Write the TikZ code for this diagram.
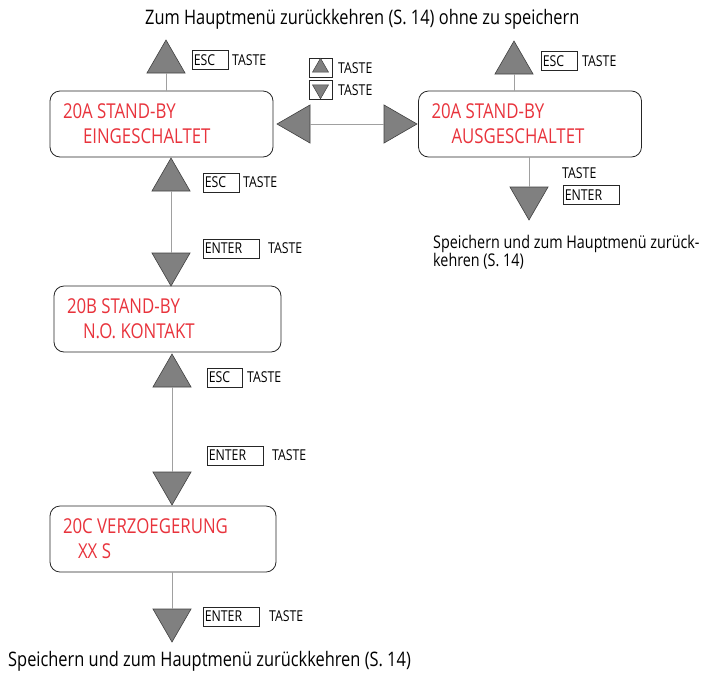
\documentclass[tikz,border=0pt]{standalone}
\usepackage{fontspec}
\setmainfont{Open Sans}[FakeStretch=0.82]
\usetikzlibrary{shapes.geometric}
\definecolor{lcdred}{HTML}{E8333C}
\definecolor{keygray}{HTML}{808080}
\definecolor{linkgray}{HTML}{A0A0A0}
\tikzset{
  tri/.style={regular polygon, regular polygon sides=3, minimum size=44pt,
    inner sep=0pt, outer sep=0pt, fill=keygray, draw=black!75, line width=0.6pt},
  triup/.style={tri, anchor=corner 1},
  tridown/.style={tri, shape border rotate=180, anchor=corner 1},
  trileft/.style={tri, shape border rotate=90, anchor=corner 1},
  triright/.style={tri, shape border rotate=-90, anchor=corner 1},
  minitri/.style={regular polygon, regular polygon sides=3, minimum size=18.5pt,
    inner sep=0pt, outer sep=0pt, fill=keygray, draw=black!75, line width=0.5pt},
  lcd/.style={draw=black!85, line width=0.8pt, rounded corners=10pt,
    minimum width=223pt, minimum height=66pt, text width=197pt,
    inner xsep=13pt, inner ysep=0pt, align=flush left, text=lcdred,
    font=\fontsize{20.5}{25}\selectfont},
  keybox/.style={draw=black!85, line width=0.6pt, anchor=west,
    minimum height=19pt, inner xsep=1.5pt, inner ysep=0pt, align=left,
    font=\fontsize{15}{15}\selectfont},
  esckey/.style={keybox, text width=33pt},
  enterkey/.style={keybox, text width=53pt},
  iconbox/.style={draw=black!85, line width=0.6pt, minimum width=23pt,
    minimum height=19pt, inner sep=0pt},
  taste/.style={anchor=west, inner sep=0pt, font=\fontsize{15}{15}\selectfont},
  note/.style={anchor=base west, inner sep=0pt, align=left,
    font=\fontsize{20}{21}\selectfont},
  smallnote/.style={note, font=\fontsize{17.5}{17.5}\selectfont},
  link/.style={draw=linkgray, line width=0.8pt}
}
\begin{document}
\begin{tikzpicture}[x=1pt, y=-1pt]
\useasboundingbox (0,0) rectangle (703,675);

% display boxes
\node[lcd] (a1) at (161.5,124) {20A STAND-BY\\\hspace*{20pt}EINGESCHALTET};
\node[lcd] (a2) at (530,124) {20A STAND-BY\\\hspace*{20pt}AUSGESCHALTET};
\node[lcd, minimum width=227pt, text width=201pt] (b) at (167.5,319)
  {20B STAND-BY\\\hspace*{16pt}N.O. KONTAKT};
\node[lcd, minimum width=226pt, text width=200pt] (c) at (163,539)
  {20C VERZOEGERUNG\\\hspace*{15pt}XX S};

% key triangles
\node[triup] (t1) at (166,40) {};
\node[triup] (t2) at (514,41) {};
\node[trileft] (tl) at (277,124) {};
\node[triright] (tr) at (417,124) {};
\node[tridown] (t3) at (529,220) {};
\node[triup] (t4) at (171,158) {};
\node[tridown] (t5) at (171,286) {};
\node[triup] (t6) at (172,354) {};
\node[tridown] (t7) at (172,505) {};
\node[tridown] (t8) at (172,642) {};

% connectors
\draw[link] (t1.side 2) -- (t1.side 2 |- a1.north);
\draw[link] (t2.side 2) -- (t2.side 2 |- a2.north);
\draw[link] (tl.side 2) -- (tr.side 2);
\draw[link] (t3.side 2 |- a2.south) -- (t3.side 2);
\draw[link] (t4.side 2) -- (t5.side 2);
\draw[link] (t6.side 2) -- (t7.side 2);
\draw[link] (t8.side 2 |- c.south) -- (t8.side 2);

% key labels
\node[esckey] (k1) at (192,60) {ESC};
\node[taste] (k1t) at (232,60) {TASTE};
\node[esckey] (k2) at (541,61) {ESC};
\node[taste] (k2t) at (582,61) {TASTE};
\node[taste] (k3t) at (562,173) {TASTE};
\node[enterkey] (k3) at (563,195) {ENTER};
\node[esckey] (k4) at (203,182.5) {ESC};
\node[taste] (k4t) at (243,182.5) {TASTE};
\node[enterkey] (k5) at (203,248.5) {ENTER};
\node[taste] (k5t) at (268,248.5) {TASTE};
\node[esckey, text width=32pt] (k6) at (207,377.5) {ESC};
\node[taste] (k6t) at (247,377.5) {TASTE};
\node[enterkey] (k7) at (207,455.5) {ENTER};
\node[taste] (k7t) at (272,455.5) {TASTE};
\node[enterkey] (k8) at (203,616.5) {ENTER};
\node[taste] (k8t) at (269,616.5) {TASTE};

% arrow key icons
\node[iconbox] (ku) at (320.5,67.5) {};
\node[minitri] at (ku) {};
\node[iconbox] (kd) at (320.5,89.5) {};
\node[minitri, shape border rotate=180] at (kd) {};
\node[taste] (kut) at (338,68) {TASTE};
\node[taste] (kdt) at (338,90) {TASTE};

% notes
\node[note] (n1) at (145,24) {Zum Hauptmenü zurückkehren (S. 14) ohne zu speichern};
\node[smallnote] (n2) at (433,266) {Speichern und zum Hauptmenü zurück-\\kehren (S. 14)};
\node[note] (n3) at (8,666) {Speichern und zum Hauptmenü zurückkehren (S. 14)};
\end{tikzpicture}
\end{document}
